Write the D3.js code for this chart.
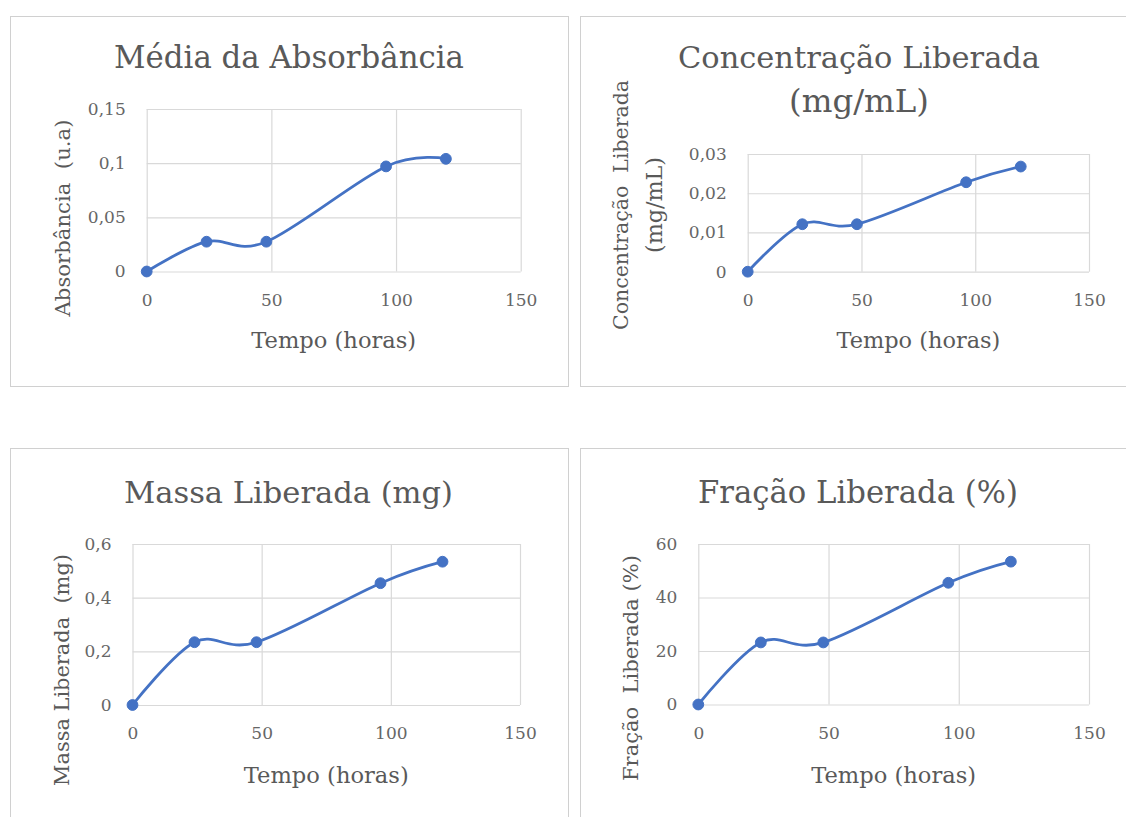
<!DOCTYPE html>
<html>
<head>
<meta charset="utf-8">
<script src="https://cdn.jsdelivr.net/npm/d3@7/dist/d3.min.js"></script>
<style>
  html, body { margin: 0; padding: 0; background: #ffffff; }
  svg { display: block; }
</style>
</head>
<body>
<svg id="chart" width="1126" height="817"></svg>
<script>
// ---------------- DATA ----------------
const timeHours = [0, 24, 48, 96, 120];
const absorbance = [0, 0.0275, 0.0275, 0.097, 0.104];
const concentration = [0, 0.0121, 0.0121, 0.0228, 0.0268];
const massReleased = [0, 0.234, 0.234, 0.454, 0.534];
const fractionReleased = [0, 23.2, 23.2, 45.5, 53.4];

const xTickValues = [0, 50, 100, 150];
const xTickLabels = ["0", "50", "100", "150"];

const absTickValues = [0, 0.05, 0.1, 0.15];
const absTickLabels = ["0", "0,05", "0,1", "0,15"];
const concTickValues = [0, 0.01, 0.02, 0.03];
const concTickLabels = ["0", "0,01", "0,02", "0,03"];
const massTickValues = [0, 0.2, 0.4, 0.6];
const massTickLabels = ["0", "0,2", "0,4", "0,6"];
const fracTickValues = [0, 20, 40, 60];
const fracTickLabels = ["0", "20", "40", "60"];

const titles = [
  ["Média da Absorbância"],
  ["Concentração Liberada", "(mg/mL)"],
  ["Massa Liberada (mg)"],
  ["Fração Liberada (%)"]
];
const yTitles = [
  ["Absorbância  (u.a)"],
  ["Concentração  Liberada", "(mg/mL)"],
  ["Massa Liberada  (mg)"],
  ["Fração  Liberada (%)"]
];
const xTitle = "Tempo (horas)";

// ---------------- LAYOUT ----------------
const FONT = "'DejaVu Serif', 'Liberation Serif', serif";
const TEXT = "#595959";
const TICK = "#666666";
const GRID = "#d9d9d9";
const BLUE = "#4472C4";

const panels = [
  { values: absorbance, yTicks: absTickValues, yLabels: absTickLabels, yMax: 0.15,
    box: [10, 16, 558, 370], plot: [146.7, 520.7, 271.5, 109],
    title: { cx: 289, baselines: [68], widths: [350] },
    yt: { cxs: [63], cy: 218, lens: [197] },
    xt: { baseline: 348, width: 165 } },
  { values: concentration, yTicks: concTickValues, yLabels: concTickLabels, yMax: 0.03,
    box: [580, 16, 560, 370], plot: [747.7, 1089, 271.7, 154],
    title: { cx: 859, baselines: [68, 111.5], widths: [362, 140] },
    yt: { cxs: [621, 654], cy: 205, lens: [250, 96] },
    xt: { baseline: 348, width: 164 } },
  { values: massReleased, yTicks: massTickValues, yLabels: massTickLabels, yMax: 0.6,
    box: [10, 448, 558, 380], plot: [132.5, 520, 705, 544],
    title: { cx: 288.5, baselines: [503], widths: [329] },
    yt: { cxs: [62], cy: 670, lens: [232] },
    xt: { baseline: 783, width: 165 } },
  { values: fractionReleased, yTicks: fracTickValues, yLabels: fracTickLabels, yMax: 60,
    box: [580, 448, 560, 380], plot: [698.3, 1089, 704.5, 544],
    title: { cx: 858, baselines: [503], widths: [320] },
    yt: { cxs: [631], cy: 668, lens: [226] },
    xt: { baseline: 783, width: 165 } }
];

const svg = d3.select("#chart");
svg.append("rect").attr("width", 1126).attr("height", 817).attr("fill", "#fff");

function fit(sel, target) {
  const len = sel.node().getComputedTextLength();
  const fs = parseFloat(sel.attr("font-size"));
  if (len > 0) sel.attr("font-size", (fs * target / len).toFixed(2));
}

panels.forEach((p, i) => {
  const [bx, by, bw, bh] = p.box;
  svg.append("rect")
    .attr("x", bx + 0.5).attr("y", by + 0.5).attr("width", bw).attr("height", bh)
    .attr("fill", "#fff").attr("stroke", "#d0d0d0").attr("stroke-width", 1);

  const [x0, x1, y0, y1] = p.plot;
  const x = d3.scaleLinear().domain([0, 150]).range([x0, x1]);
  const y = d3.scaleLinear().domain([0, p.yMax]).range([y0, y1]);
  const g = svg.append("g");

  // gridlines
  g.append("g").attr("transform", `translate(0,${y0})`)
    .call(d3.axisBottom(x).tickValues(xTickValues).tickSize(-(y0 - y1)).tickFormat(""))
    .call(a => a.select(".domain").remove())
    .call(a => a.selectAll("line").attr("stroke", GRID).attr("stroke-width", 1.2));
  g.append("g").attr("transform", `translate(${x0},0)`)
    .call(d3.axisLeft(y).tickValues(p.yTicks).tickSize(-(x1 - x0)).tickFormat(""))
    .call(a => a.select(".domain").remove())
    .call(a => a.selectAll("line").attr("stroke", GRID).attr("stroke-width", 1.2));

  // tick labels
  g.append("g").attr("transform", `translate(0,${y0})`)
    .call(d3.axisBottom(x).tickValues(xTickValues).tickSize(0).tickPadding(22)
      .tickFormat((d, k) => xTickLabels[k]))
    .call(a => a.select(".domain").remove())
    .call(a => a.selectAll("text").attr("font-family", FONT).attr("font-size", 17).attr("fill", TICK));
  g.append("g").attr("transform", `translate(${x0},0)`)
    .call(d3.axisLeft(y).tickValues(p.yTicks).tickSize(0).tickPadding(21)
      .tickFormat((d, k) => p.yLabels[k]))
    .call(a => a.select(".domain").remove())
    .call(a => a.selectAll("text").attr("font-family", FONT).attr("font-size", 17).attr("fill", TICK));

  // series line
  const pts = timeHours.map((t, k) => [t, p.values[k]]);
  const line = d3.line().x(d => x(d[0])).y(d => y(d[1])).curve(d3.curveCardinal.tension(0));
  g.append("path").datum(pts).attr("d", line)
    .attr("fill", "none").attr("stroke", BLUE).attr("stroke-width", 2.8)
    .attr("stroke-linejoin", "round").attr("stroke-linecap", "round");
  g.selectAll("circle.m").data(pts).join("circle").attr("class", "m")
    .attr("cx", d => x(d[0])).attr("cy", d => y(d[1])).attr("r", 5.4)
    .attr("fill", BLUE).attr("stroke", BLUE).attr("stroke-width", 1);

  // chart title
  titles[i].forEach((t, k) => {
    const tt = svg.append("text").text(t)
      .attr("x", p.title.cx).attr("y", p.title.baselines[k])
      .attr("text-anchor", "middle").attr("font-family", FONT).attr("font-size", 30)
      .attr("fill", TEXT);
    fit(tt, p.title.widths[k]);
  });

  // y axis title
  yTitles[i].forEach((t, k) => {
    const tt = svg.append("text").text(t)
      .attr("transform", `translate(${p.yt.cxs[k]},${p.yt.cy}) rotate(-90)`)
      .attr("text-anchor", "middle").attr("dy", "0.35em")
      .attr("font-family", FONT).attr("font-size", 20).attr("fill", TEXT)
      .style("white-space", "pre");
    fit(tt, p.yt.lens[k]);
  });

  // x axis title
  const xt = svg.append("text").text(xTitle)
    .attr("x", (x0 + x1) / 2).attr("y", p.xt.baseline)
    .attr("text-anchor", "middle").attr("font-family", FONT).attr("font-size", 20)
    .attr("fill", TEXT);
  fit(xt, p.xt.width);
});
</script>
</body>
</html>
